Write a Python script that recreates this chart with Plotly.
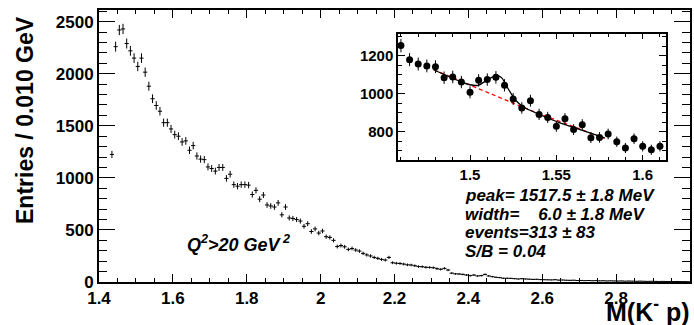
import numpy as np
import plotly.graph_objects as go

# ---------------- data ----------------
main_counts = [
    1225, 2260, 2420, 2430, 2290, 2220, 2150, 2070, 2150, 2015,
    1880, 1760, 1695, 1640, 1530, 1530, 1470, 1415, 1400, 1345,
    1355, 1265, 1310, 1210, 1180, 1175, 1105, 1090, 1065, 1100,
    1100, 995, 1035, 935, 920, 935, 935, 930, 840, 880,
    795, 835, 740, 730, 720, 760, 645, 720, 615, 610,
    600, 585, 535, 560, 485, 510, 470, 490, 435, 428,
    400, 340, 350, 338, 313, 322, 307, 297, 275, 260,
    250, 236, 227, 217, 211, 236, 185, 180, 178, 172,
    165, 163, 156, 148, 147, 141, 140, 137, 128, 122,
    131, 115, 85, 78, 77, 73, 67, 61, 67, 58,
    61, 73, 58, 51, 45, 42, 36, 36, 35, 32,
    29, 32, 29, 27, 25, 26, 23, 22, 21, 20,
    22, 18, 19, 17, 16, 17, 14, 15, 13, 14,
    12, 13, 11, 12, 10, 11, 10, 9, 10, 8,
    9, 8, 7, 8, 7, 6, 7, 6, 5, 6,
    5, 5, 4, 5, 4, 4, 3,
]
main_first_bin = 1.435
main_bin_width = 0.010
main_mass = np.round(main_first_bin + main_bin_width * np.arange(len(main_counts)), 4)

inset_counts = [
    1253, 1179, 1156, 1146, 1142, 1084, 1088, 1061, 1007, 1070,
    1074, 1086, 1044, 972, 925, 963, 891, 875, 828, 868,
    811, 837, 768, 770, 788, 747, 714, 763, 723, 705, 723,
]
inset_first_bin = 1.460
inset_bin_width = 0.005
inset_mass = np.round(inset_first_bin + inset_bin_width * np.arange(len(inset_counts)), 4)

fit_x = [1.479, 1.4865, 1.4942, 1.500, 1.5048, 1.5087, 1.5126, 1.516, 1.5184,
         1.5213, 1.5242, 1.527, 1.5309, 1.5406, 1.5521, 1.5637, 1.578]
fit_y = [1126, 1095, 1065, 1047, 1044, 1065, 1086, 1095, 1083,
         1038, 995, 960, 930, 889, 846, 811, 767]

bg_x = [1.479, 1.504, 1.517, 1.527, 1.540, 1.560, 1.578]
bg_y = [1126, 1030, 977, 942, 895, 828, 765]

main_xtick_vals = [1.4, 1.6, 1.8, 2.0, 2.2, 2.4, 2.6, 2.8, 3.0]
main_xtick_text = ["1.4", "1.6", "1.8", "2", "2.2", "2.4", "2.6", "2.8", "3"]
main_ytick_vals = [0, 500, 1000, 1500, 2000, 2500]
inset_xtick_vals = [1.50, 1.55, 1.60]
inset_xtick_text = ["1.5", "1.55", "1.6"]
inset_ytick_vals = [800, 1000, 1200]

fit_lines = [
    "peak= 1517.5 ± 1.8 MeV",
    "width=\u00a0\u00a0\u00a0\u00a06.0 ± 1.8 MeV",
    "events=313 ± 83",
    "S/B = 0.04",
]

# ---------------- figure ----------------
W, H = 694, 325
FONT = "Liberation Sans, Arial, Helvetica, sans-serif"

def px_x(p):
    return p / W

def px_y(p):
    return 1 - p / H

fig = go.Figure()

fig.add_trace(go.Scatter(
    x=main_mass, y=main_counts, mode="markers",
    marker=dict(symbol="line-ew-open", size=3, color="black",
                line=dict(color="black", width=1)),
    error_y=dict(type="data", array=np.sqrt(main_counts), color="black",
                 thickness=1, width=0),
    xaxis="x", yaxis="y", showlegend=False,
))

fig.add_trace(go.Scatter(
    x=bg_x, y=bg_y, mode="lines",
    line=dict(color="red", width=1.3, dash="4px,3px"),
    xaxis="x2", yaxis="y2", showlegend=False,
))
fig.add_trace(go.Scatter(
    x=fit_x, y=fit_y, mode="lines",
    line=dict(color="black", width=1.3, shape="spline", smoothing=0.8),
    xaxis="x2", yaxis="y2", showlegend=False,
))
fig.add_trace(go.Scatter(
    x=inset_mass, y=inset_counts, mode="markers",
    marker=dict(symbol="circle", size=7, color="black"),
    error_y=dict(type="data", array=np.sqrt(inset_counts), color="black",
                 thickness=1, width=0),
    xaxis="x2", yaxis="y2", showlegend=False,
))

tickfont_main = dict(family=FONT, size=17, color="black", weight="bold")
tickfont_inset = dict(family=FONT, size=15, color="black", weight="bold")

fig.update_layout(
    width=W, height=H,
    margin=dict(l=0, r=0, t=0, b=0, pad=0, autoexpand=False),
    paper_bgcolor="white", plot_bgcolor="white",
    xaxis=dict(
        domain=[px_x(99), px_x(690)], range=[1.4, 3.0],
        tickvals=main_xtick_vals, ticktext=main_xtick_text,
        ticks="inside", ticklen=8, tickwidth=1, tickcolor="black",
        minor=dict(dtick=0.05, ticks="inside", ticklen=4, tickcolor="black", tickwidth=1),
        showline=True, linecolor="black", linewidth=2, mirror="ticks",
        showgrid=False, zeroline=False, tickfont=tickfont_main,
        anchor="y", automargin=False,
    ),
    yaxis=dict(
        domain=[px_y(282), px_y(10)], range=[0, 2612],
        tickvals=main_ytick_vals,
        ticks="inside", ticklen=16, tickwidth=1, tickcolor="black",
        minor=dict(dtick=100, ticks="inside", ticklen=8, tickcolor="black", tickwidth=1),
        showline=True, linecolor="black", linewidth=2, mirror="ticks",
        showgrid=False, zeroline=False, tickfont=tickfont_main,
        anchor="x", automargin=False,
    ),
    xaxis2=dict(
        domain=[px_x(398), px_x(666)], range=[1.4583, 1.6135],
        tickvals=inset_xtick_vals, ticktext=inset_xtick_text,
        ticks="inside", ticklen=5, tickwidth=1, tickcolor="black",
        minor=dict(dtick=0.01, ticks="inside", ticklen=3, tickcolor="black", tickwidth=1),
        showline=True, linecolor="black", linewidth=1.5, mirror="ticks",
        showgrid=False, zeroline=False, tickfont=tickfont_inset,
        anchor="y2", automargin=False,
    ),
    yaxis2=dict(
        domain=[px_y(160), px_y(34)], range=[651, 1314],
        tickvals=inset_ytick_vals,
        ticks="inside", ticklen=7, tickwidth=1, tickcolor="black",
        minor=dict(dtick=50, ticks="inside", ticklen=4, tickcolor="black", tickwidth=1),
        showline=True, linecolor="black", linewidth=1.5, mirror="ticks",
        showgrid=False, zeroline=False, tickfont=tickfont_inset,
        anchor="x2", automargin=False,
    ),
)

annotations = []
annotations.append(dict(
    text="Entries / 0.010 GeV", textangle=-90,
    x=px_x(25), y=px_y(120), xref="paper", yref="paper",
    xanchor="center", yanchor="middle", showarrow=False,
    font=dict(family=FONT, size=23, color="black", weight="bold"),
))
annotations.append(dict(
    text="M(K<sup>-</sup> p)",
    x=px_x(692), y=px_y(310), xref="paper", yref="paper",
    xanchor="right", yanchor="middle", showarrow=False,
    font=dict(family=FONT, size=25, color="black", weight="bold"),
))
annotations.append(dict(
    text="<i>Q<sup>2</sup>>20 GeV<sup> 2</sup></i>",
    x=px_x(185), y=px_y(243), xref="paper", yref="paper",
    xanchor="left", yanchor="middle", showarrow=False,
    font=dict(family=FONT, size=18, color="black", weight="bold"),
))
line_y = [195, 214, 232.5, 251]
for txt, yy in zip(fit_lines, line_y):
    annotations.append(dict(
        text="<i>" + txt + "</i>",
        x=px_x(463), y=px_y(yy), xref="paper", yref="paper",
        xanchor="left", yanchor="middle", showarrow=False,
        font=dict(family=FONT, size=17, color="black", weight="bold"),
    ))
fig.update_layout(annotations=annotations)

# place the figure flush with the window corner (no default page margin)
fig.write_html(
    "out.html",
    config={"displayModeBar": False},
    post_script="document.body.style.margin='0px';document.body.style.overflow='hidden';",
)
